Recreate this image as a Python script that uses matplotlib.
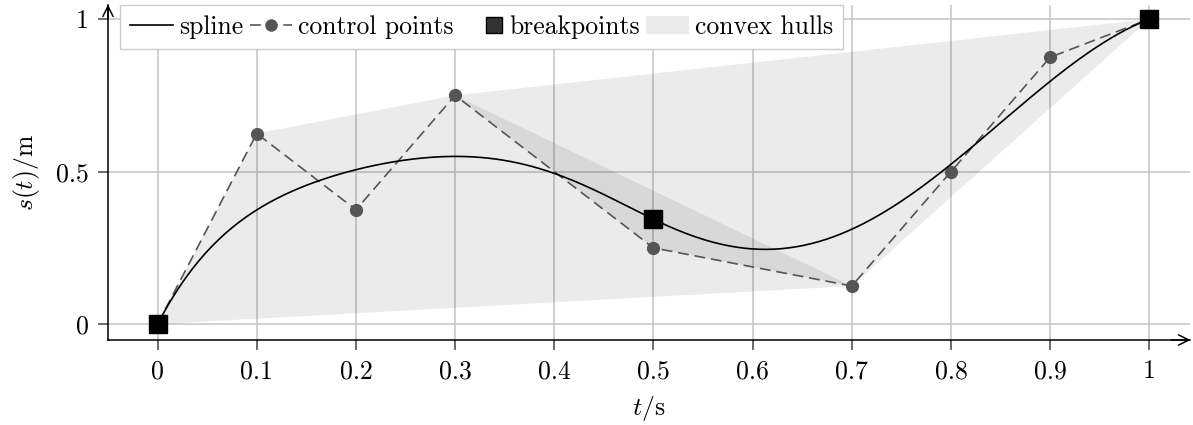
import matplotlib
matplotlib.use("Agg")
import matplotlib.pyplot as plt
from matplotlib.lines import Line2D
from matplotlib.patches import Patch, Polygon
from matplotlib.legend_handler import HandlerBase
import numpy as np

plt.rcParams['font.family'] = 'serif'
plt.rcParams['font.serif'] = ['cmr10']
plt.rcParams['mathtext.fontset'] = 'cm'
plt.rcParams['axes.formatter.use_mathtext'] = True
plt.rcParams['font.size'] = 18.5

# spline data: quintic B-spline, breakpoint at t = 0.5
degree = 5
knots = [0, 0, 0, 0, 0, 0, 0.5, 0.5, 0.5, 1, 1, 1, 1, 1, 1]
ctrl_t = [0, 0.1, 0.2, 0.3, 0.5, 0.7, 0.8, 0.9, 1]
ctrl_s = [0, 0.625, 0.375, 0.75, 0.25, 0.125, 0.5, 0.875, 1]
break_t = [0, 0.5, 1]
xticks = [0, 0.1, 0.2, 0.3, 0.4, 0.5, 0.6, 0.7, 0.8, 0.9, 1]
xticklabels = ['0', '0.1', '0.2', '0.3', '0.4', '0.5', '0.6', '0.7', '0.8', '0.9', '1']
yticks = [0, 0.5, 1]
yticklabels = ['0', '0.5', '1']


def basis(i, k, t, kn):
    # Cox-de Boor recursion
    if k == 0:
        b = ((kn[i] <= t) & (t < kn[i + 1])).astype(float)
        if kn[i + 1] == kn[-1] and kn[i] < kn[i + 1]:
            b[t == kn[-1]] = 1.0
        return b
    out = np.zeros_like(t)
    if kn[i + k] > kn[i]:
        out += (t - kn[i]) / (kn[i + k] - kn[i]) * basis(i, k - 1, t, kn)
    if kn[i + k + 1] > kn[i + 1]:
        out += (kn[i + k + 1] - t) / (kn[i + k + 1] - kn[i + 1]) * basis(i + 1, k - 1, t, kn)
    return out


def spline(t):
    t = np.asarray(t, float)
    kn = np.array(knots, float)
    return sum(c * basis(i, degree, t, kn) for i, c in enumerate(ctrl_s))


def hull(pts):
    pts = sorted(map(tuple, pts))
    def cross(o, a, b):
        return (a[0] - o[0]) * (b[1] - o[1]) - (a[1] - o[1]) * (b[0] - o[0])
    lower, upper = [], []
    for p in pts:
        while len(lower) >= 2 and cross(lower[-2], lower[-1], p) <= 0:
            lower.pop()
        lower.append(p)
    for p in reversed(pts):
        while len(upper) >= 2 and cross(upper[-2], upper[-1], p) <= 0:
            upper.pop()
        upper.append(p)
    return lower[:-1] + upper[:-1]


class RightSquare(HandlerBase):
    # square marker pushed to the right end of the handle box
    def create_artists(self, legend, orig, xd, yd, width, height, fontsize, trans):
        m = Line2D([width - 0.35 * fontsize], [height / 2 - yd], ls='none', marker='s',
                   ms=11, markerfacecolor='#333333', markeredgecolor='black',
                   transform=trans)
        return [m]


fig = plt.figure(figsize=(11.93, 4.25), dpi=100)
ax = fig.add_axes([0.0905, 0.2, 0.907, 0.788])

tt = np.linspace(0, 1, 400)
pts = np.column_stack([ctrl_t, ctrl_s])
for seg in range(2):
    poly = hull(pts[3 * seg:3 * seg + degree + 1])
    ax.add_patch(Polygon(poly, closed=True, facecolor='black', alpha=0.08,
                         edgecolor='none', zorder=1))

dash = (0, (6.5, 3.5))
ax.plot(ctrl_t, ctrl_s, color='#555555', ls=dash, lw=1.2,
        marker='o', ms=8.5, zorder=2)
ax.plot(tt, spline(tt), color='black', lw=1.2, zorder=3)
ax.plot(break_t, spline(break_t), 's', color='black', ms=12.5, zorder=4)

ax.set_xlim(-0.05, 1.041)
ax.set_ylim(-0.052, 1.046)
ax.set_xticks(xticks)
ax.set_xticklabels(xticklabels)
ax.set_yticks(yticks)
ax.set_yticklabels(yticklabels)
ax.grid(True, color='#c4c4c4', lw=1.1)
ax.set_axisbelow(True)
ax.tick_params(direction='out', length=7, width=1.1, color='#444444', pad=7)
for s in ['top', 'right']:
    ax.spines[s].set_visible(False)
for s in ['left', 'bottom']:
    ax.spines[s].set_linewidth(1.1)

ax.annotate('', xy=(1.003, 0), xytext=(0.98, 0), xycoords='axes fraction',
            arrowprops=dict(arrowstyle='->', lw=1.1, color='black'))
ax.annotate('', xy=(0, 1.01), xytext=(0, 0.95), xycoords='axes fraction',
            arrowprops=dict(arrowstyle='->', lw=1.1, color='black'), annotation_clip=False)

ax.set_xlabel('$t/\\mathrm{s}$', labelpad=8)
ax.set_ylabel('$s(t)/\\mathrm{m}$', labelpad=10)

bp_handle = Line2D([], [], ls='none', marker='s')
handles = [
    Line2D([], [], color='black', lw=1.2),
    Line2D([], [], color='#555555', ls=dash, lw=1.2, marker='o', ms=8),
    bp_handle,
    Patch(facecolor='#ebebeb', edgecolor='none'),
]
labels = ['spline', 'control points', 'breakpoints', 'convex hulls']
leg = ax.legend(handles, labels, loc='upper left', bbox_to_anchor=(0.011, 1.0),
                ncol=4, frameon=True, fancybox=False, framealpha=1,
                edgecolor='#cccccc', borderaxespad=0, handlelength=1.65,
                handletextpad=0.25, columnspacing=0.25, borderpad=0.4,
                handler_map={bp_handle: RightSquare()})
leg.get_frame().set_linewidth(1.0)

fig.savefig('out.png', dpi=100)
